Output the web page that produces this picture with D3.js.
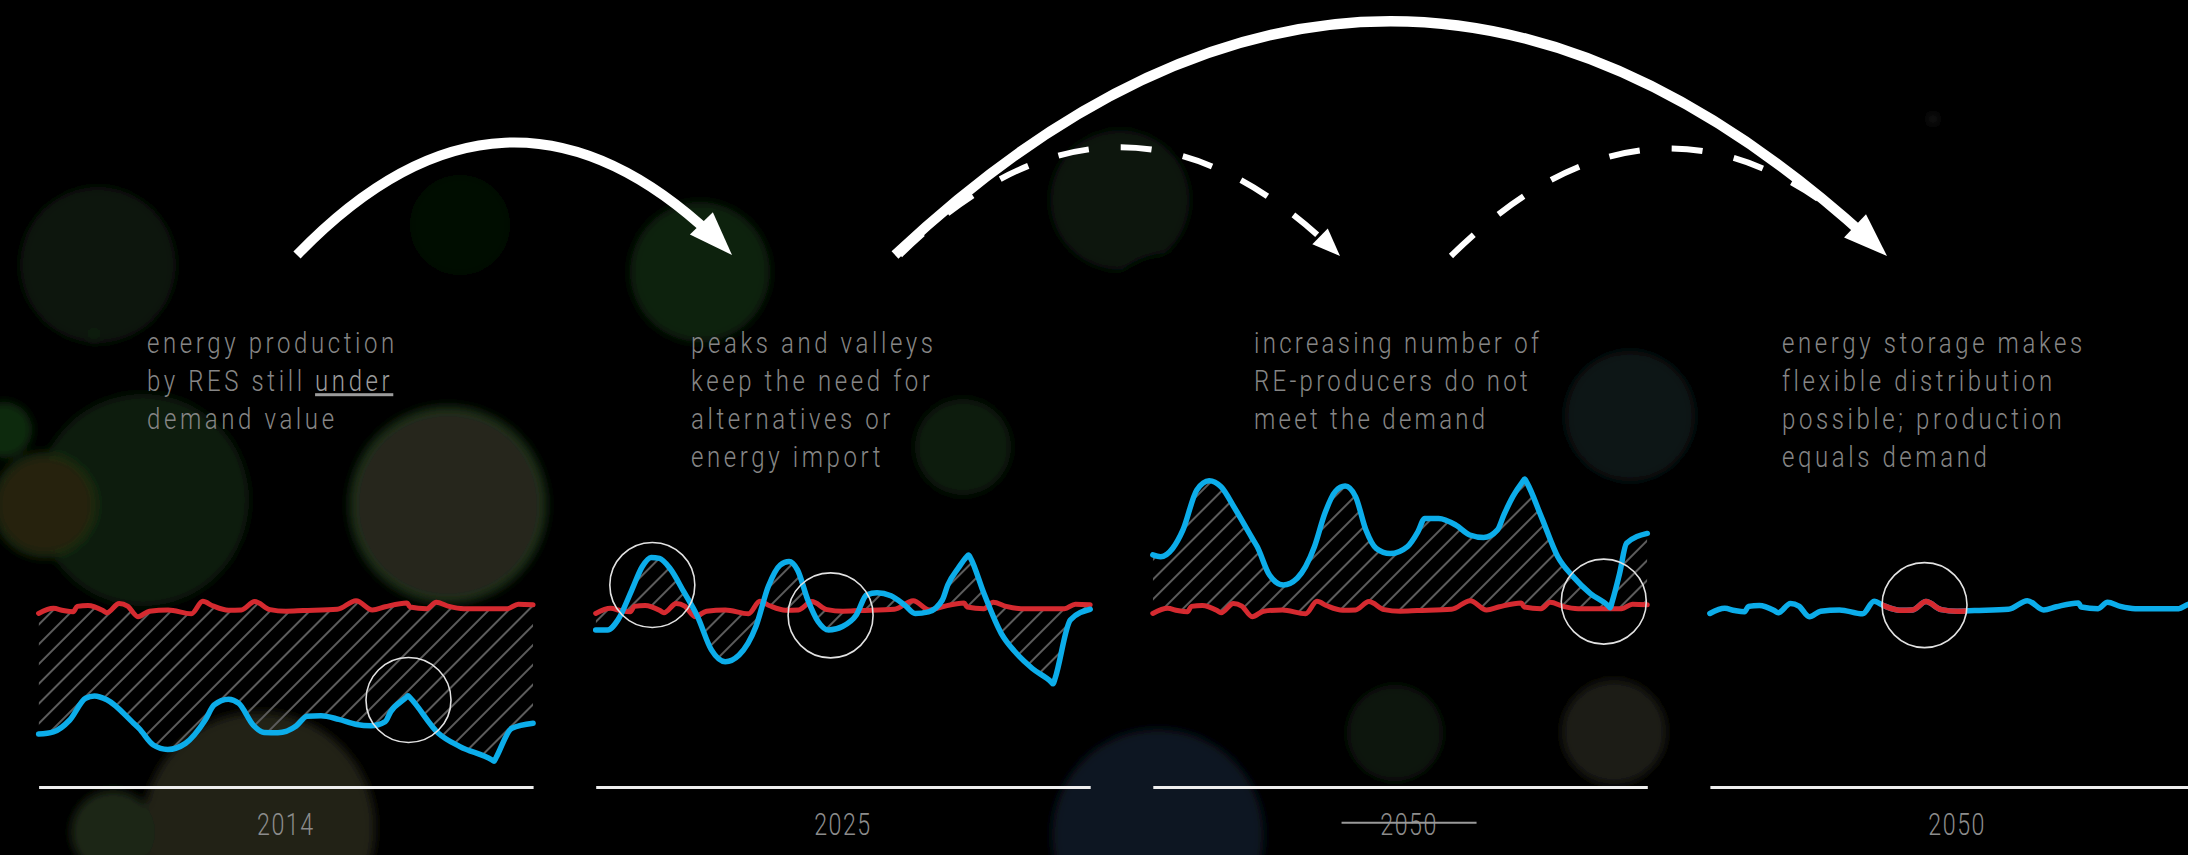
<!DOCTYPE html>
<html>
<head>
<meta charset="utf-8">
<script src="https://cdn.jsdelivr.net/npm/d3@7"></script>
<style>
  html, body { margin: 0; padding: 0; background: #000; overflow: hidden; }
  text { font-family: Roboto, "Open Sans", sans-serif; font-weight: 300; white-space: pre; }
</style>
</head>
<body>
<svg id="chart" width="2188" height="855"></svg>
<script>
// ---------------- data ----------------
const years = ["2014", "2025", "2050", "2050"];
const struckYear = [false, false, true, false];

const captions = [
  ["energy production", "by RES still _under_", "demand value"],
  ["peaks and valleys", "keep the need for", "alternatives or", "energy import"],
  ["increasing number of", "RE-producers do not", "meet the demand"],
  ["energy storage makes", "flexible distribution", "possible; production", "equals demand"]
];

// demand (red) – time index 0..100, value in relative units
const demand = [
  [0,58.3],[3,59.9],[5,59.2],[7,58.8],[7.8,60.5],[10,60.8],[13,59.2],[13.8,58.5],
  [16.3,61.4],[18,60.6],[20.1,57.3],[22.4,59],[26.2,59.4],[30.9,58.2],[33.2,62.1],
  [35.2,60.7],[38.4,59.3],[41,59.4],[43.7,62],[46.8,59.5],[50,59],[53.5,59.2],
  [60.4,59.6],[64.2,62.3],[67.5,59.4],[70.1,60.4],[74.5,61.6],[75.1,60.3],[78.5,59.8],
  [80.4,61.8],[83,60.5],[86,59.8],[94.8,59.8],[97,61.2],[100,61]
];

// production by RES (blue)
const production2014 = [
  [0,20.6],[3,21.3],[6.3,25],[9.5,31.8],[11.3,32.5],[13.8,31.3],[19.2,24],[20.3,22.4],
  [23.2,17.2],[26.1,15.8],[29.7,17.7],[33.7,25],[35.5,29.7],[38.4,31.5],[40.5,30.2],
  [43.4,23.4],[45.6,21.1],[48.4,21],[52.1,23.1],[54.3,26.2],[57.1,26.3],[60.7,25.2],
  [64.3,23.6],[67.2,23.2],[70.1,24.5],[71.2,27.6],[74.3,32],[74.7,32.6],[75.1,32],
  [80.9,20.8],[85.2,16.7],[91.7,12.5],[92.1,12.1],[92.5,13.2],[95.7,22.4],[100,24]
];
const production2025 = [
  [0,53.1],[2.4,53.1],[4.5,56.3],[7.3,65.6],[9.4,72.9],[11.2,75.8],[12.9,75.5],[15,72.4],
  [17.8,65.1],[20.6,57.3],[23.4,46.9],[26.2,43.2],[29,45.3],[32.4,54.2],[34.9,66.7],
  [37.3,73.4],[39.1,74.5],[40.8,71.9],[42.9,62.5],[45,55.7],[47.1,53.1],[49.9,54.2],
  [52.7,57.8],[54.8,64.1],[56.9,64.8],[59.7,63.8],[62.5,60.9],[64.6,58.3],[67.3,58.8],
  [70.1,62.5],[71.2,67.2],[73.3,72.4],[75,76],[75.4,76.6],[75.8,75.6],[78.5,64.6],
  [82,52.1],[84.8,46.3],[88.3,41.1],[92.1,36.9],[92.5,36.3],[92.9,38],[96,56.3],[100,59.6]
];
const production2050 = [
  [0,76.6],[1.6,76],[4,78.6],[6.1,84.4],[8.9,96.9],[11.4,99.8],[13.8,97.9],[16.6,91.1],
  [20.1,81.8],[21.1,79.2],[23.6,70.3],[26.4,67.2],[29.2,69.3],[32.7,79.2],[34.8,89.6],
  [36.9,96.4],[38.9,98.1],[41,94.8],[43.1,84.4],[45.2,78.6],[48,77],[51.5,79.2],
  [53.6,83.8],[55,88],[57.8,88],[61.3,85.9],[64.1,82.8],[66.9,82],[69.7,84.4],[71,89.1],
  [72.8,94.8],[74.8,99.5],[75.2,100.3],[75.6,99.3],[78.7,88],[81.9,76],[85,69.8],
  [88.5,64.5],[92.1,60.7],[92.5,60.1],[92.9,62],[94.4,70.8],[95.8,80.2],[100,83.3]
];
// with storage, production equals demand
const productionStorage = demand;
const productions = [production2014, production2025, production2050, productionStorage];

// highlighted spots (time, value)
const highlights = [
  [[74.8, 31.25]],
  [[11.45, 67.2], [47.5, 57.7]],
  [[91.2, 62.0]],
  [[43.4, 60.9]]
];

// ---------------- layout ----------------
const W = 2188, H = 855;
const panelX0 = 38.6, panelStep = 557.1, panelW = 494.5;
const axisY = 787;
const captionX = [147, 691, 1254, 1782];
const captionY0 = 353, captionLH = 38;
const captionSpacing = [4.5, 4.5, 4.1, 4.5];
const yearOffset = [0, 0, 9, 0];
const RED = "#d52a30", BLUE = "#0cadea";

const svg = d3.select("#chart");
svg.append("rect").attr("width", W).attr("height", H).attr("fill", "#000");
const defs = svg.append("defs");

const blur = defs.append("filter").attr("id", "blur")
  .attr("x", "-50%").attr("y", "-50%").attr("width", "200%").attr("height", "200%");
blur.append("feGaussianBlur").attr("stdDeviation", 5);

const pat = defs.append("pattern").attr("id", "hatch")
  .attr("patternUnits", "userSpaceOnUse").attr("width", 14).attr("height", 14)
  .attr("patternTransform", "rotate(45)");
pat.append("line").attr("x1", 7).attr("y1", -2).attr("x2", 7).attr("y2", 16)
  .attr("stroke", "#5c5c5c").attr("stroke-width", 2);

// ---------------- background bokeh ----------------
const bokeh = [
  {x: 98, y: 265, r: 78, c: "#0a190a"},
  {x: 143, y: 500, r: 106, c: "#0c1d0c"},
  {x: 45, y: 505, r: 50, c: "#262010", s: "#142a0d"},
  {x: 448, y: 505, r: 96, c: "#28271a", s: "#183012"},
  {x: 259, y: 828, r: 116, c: "#222019"},
  {x: 113, y: 832, r: 42, c: "#1a2512"},
  {x: 700, y: 272, r: 70, c: "#0b220b"},
  {x: 460, y: 225, r: 50, c: "#050f05"},
  {x: 963, y: 447, r: 48, c: "#0c1b0c"},
  {x: 1120, y: 200, r: 70, c: "#07170b"},
  {x: 1172, y: 335, r: 82, c: "#020504"},
  {x: 1409, y: 140, r: 62, c: "#020506"},
  {x: 1158, y: 835, r: 106, c: "#091921"},
  {x: 1395, y: 733, r: 48, c: "#0f140f"},
  {x: 1614, y: 732, r: 52, c: "#1c1b15"},
  {x: 1630, y: 416, r: 65, c: "#101315"},
  {x: 4, y: 430, r: 28, c: "#112911"},
  {x: 1933, y: 119, r: 4, c: "#2a2a2a"},
  {x: 94, y: 335, r: 3, c: "#1c361c"}
];
svg.append("g").attr("filter", "url(#blur)")
  .selectAll("circle").data(bokeh).join("circle")
  .attr("cx", d => d.x).attr("cy", d => d.y).attr("r", d => d.r)
  .attr("fill", d => d.c)
  .attr("stroke", d => d.s || "none").attr("stroke-width", d => d.s ? 6 : 0);

// ---------------- panels ----------------
const y = d3.scaleLinear().domain([0, 100]).range([800, 480]);

productions.forEach((prod, i) => {
  const x0 = panelX0 + i * panelStep;
  const x = d3.scaleLinear().domain([0, 100]).range([x0, x0 + panelW]);
  const g = svg.append("g");
  const line = d3.line().x(d => x(d[0])).y(d => y(d[1])).curve(d3.curveMonotoneX);

  if (i < 3) {
    const below = d3.area().x(d => x(d[0])).y0(H).y1(d => y(d[1])).curve(d3.curveMonotoneX);
    defs.append("clipPath").attr("id", "between" + i)
      .append("path").attr("clip-rule", "evenodd")
      .attr("d", below(demand) + below(prod));
    g.append("rect").attr("x", x0).attr("y", 380).attr("width", panelW).attr("height", H - 380)
      .attr("fill", "url(#hatch)").attr("clip-path", `url(#between${i})`);
    g.append("path").datum(demand).attr("d", line)
      .attr("fill", "none").attr("stroke", RED).attr("stroke-width", 5)
      .attr("stroke-linejoin", "round").attr("stroke-linecap", "round");
  }

  g.append("path").datum(prod).attr("d", line)
    .attr("fill", "none").attr("stroke", BLUE).attr("stroke-width", 5.5)
    .attr("stroke-linejoin", "round").attr("stroke-linecap", "round");

  // highlight circles
  highlights[i].forEach((h, k) => {
    if (i === 3) {
      const cid = "hl" + i + "_" + k;
      defs.append("clipPath").attr("id", cid).append("circle")
        .attr("cx", x(h[0])).attr("cy", y(h[1])).attr("r", 42.5);
      g.append("path").datum(prod).attr("d", line).attr("clip-path", `url(#${cid})`)
        .attr("fill", "none").attr("stroke", RED).attr("stroke-width", 5.5)
        .attr("stroke-linejoin", "round");
    }
    g.append("circle").attr("cx", x(h[0])).attr("cy", y(h[1])).attr("r", 42.5)
      .attr("fill", "none").attr("stroke", "#e2e2e2").attr("stroke-width", 1.6);
  });

  // time axis (baseline)
  const axis = g.append("g").attr("transform", `translate(0,${axisY})`)
    .call(d3.axisBottom(x).tickValues([]).tickSizeOuter(0));
  axis.select(".domain").attr("stroke", "#eeeeee").attr("stroke-width", 3);

  // year label
  const cx = x(50) + yearOffset[i];
  g.append("text").attr("transform", `translate(${cx},835) scale(0.75,1)`)
    .attr("text-anchor", "middle").attr("font-size", 31)
    .attr("letter-spacing", 2).attr("fill", "#8c8c8c").text(years[i]);
  if (struckYear[i]) {
    g.append("line").attr("x1", cx - 67.5).attr("x2", cx + 67.5)
      .attr("y1", 822.7).attr("y2", 822.7).attr("stroke", "#9a9a9a").attr("stroke-width", 2);
  }

  // caption
  captions[i].forEach((ln, j) => {
    const t = svg.append("text")
      .attr("transform", `translate(${captionX[i]},${captionY0 + j * captionLH}) scale(0.8,1)`)
      .attr("font-size", 30).attr("letter-spacing", captionSpacing[i]).attr("fill", "#868686");
    ln.split(/(_[^_]+_)/).forEach(seg => {
      if (!seg) return;
      const u = seg.startsWith("_");
      t.append("tspan").text(u ? seg.slice(1, -1) : seg)
        .style("text-decoration", u ? "underline" : null)
        .attr("fill", u ? "#9c9c9c" : null);
    });
  });
});

// ---------------- arrows ----------------
const arrows = [
  {p0: [900, 255], p1: [1120, 39], p2: [1340, 256], w: 6, dash: "31 32", head: [28, 22]},
  {p0: [1451, 256], p1: [1669, 41], p2: [1887, 256], w: 6, dash: "31 32", head: null},
  {p0: [297, 255], p1: [514, 30], p2: [732, 255], w: 10, dash: null, head: [44, 32]},
  {p0: [895, 255], p1: [1391, -213], p2: [1887, 256], w: 10, dash: null, head: [44, 32]}
];
const lerp = (a, b, t) => [a[0] + (b[0] - a[0]) * t, a[1] + (b[1] - a[1]) * t];
const quad = (p0, p1, p2, t) => lerp(lerp(p0, p1, t), lerp(p1, p2, t), t);
const ga = svg.append("g");
arrows.forEach(a => {
  let t0 = 1;
  if (a.head) {
    const target = a.head[0] * 0.6;
    let lo = 0, hi = 1;
    for (let k = 0; k < 40; k++) {
      const m = (lo + hi) / 2, p = quad(a.p0, a.p1, a.p2, m);
      const d = Math.hypot(p[0] - a.p2[0], p[1] - a.p2[1]);
      if (d > target) lo = m; else hi = m;
    }
    t0 = lo;
  }
  const c = lerp(a.p0, a.p1, t0), e = quad(a.p0, a.p1, a.p2, t0);
  const p = d3.path();
  p.moveTo(a.p0[0], a.p0[1]);
  p.quadraticCurveTo(c[0], c[1], e[0], e[1]);
  ga.append("path").attr("d", p.toString()).attr("fill", "none")
    .attr("stroke", "#fff").attr("stroke-width", a.w)
    .attr("stroke-dasharray", a.dash);
  if (a.head) {
    const dx = a.p2[0] - a.p1[0], dy = a.p2[1] - a.p1[1], L = Math.hypot(dx, dy);
    const ux = dx / L, uy = dy / L, nx = -uy, ny = ux;
    const [hl, hw] = a.head;
    const bx = a.p2[0] - ux * hl, by = a.p2[1] - uy * hl;
    ga.append("polygon").attr("fill", "#fff").attr("points", [
      [a.p2[0], a.p2[1]],
      [bx + nx * hw / 2, by + ny * hw / 2],
      [bx - nx * hw / 2, by - ny * hw / 2]
    ].map(q => q.join(",")).join(" "));
  }
});
</script>
</body>
</html>
